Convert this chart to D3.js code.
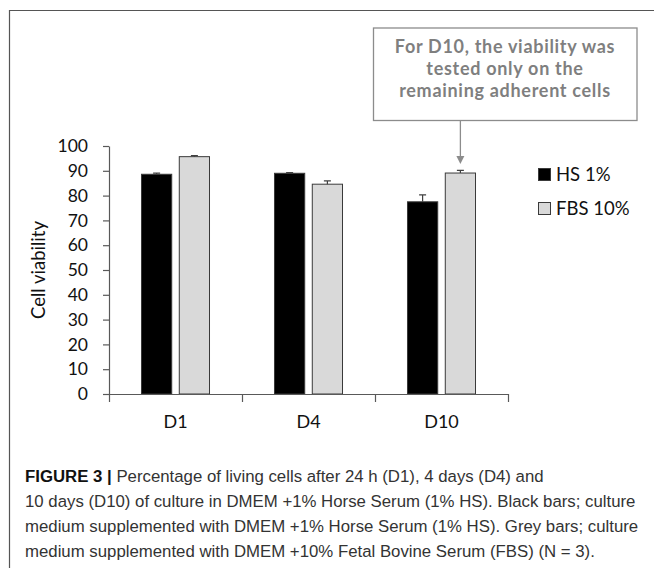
<!DOCTYPE html>
<html>
<head>
<meta charset="utf-8">
<script src="https://cdn.jsdelivr.net/npm/d3@7"></script>
<style>
  html, body { margin: 0; padding: 0; background: #fff; }
  svg { display: block; }
</style>
</head>
<body>
<svg id="chart" width="654" height="568"></svg>
<script>
const categories = ["D1", "D4", "D10"];
const seriesNames = ["HS 1%", "FBS 10%"];
const hsValues = [88.6, 89.0, 77.5];
const fbsValues = [95.7, 84.6, 89.1];
const hsErrors = [0.5, 0.3, 2.8];
const fbsErrors = [0.4, 1.3, 1.1];
const yTicks = [0, 10, 20, 30, 40, 50, 60, 70, 80, 90, 100];
const yTitle = "Cell viability";
const noteLines = ["For D10, the viability was", "tested only on the", "remaining adherent cells"];
const captionBold = "FIGURE 3 |";
const captionLines = [
  " Percentage of living cells after 24 h (D1), 4 days (D4) and",
  "10 days (D10) of culture in DMEM +1% Horse Serum (1% HS). Black bars; culture",
  "medium supplemented with DMEM +1% Horse Serum (1% HS). Grey bars; culture",
  "medium supplemented with DMEM +10% Fetal Bovine Serum (FBS) (N = 3)."
];

const seriesValues = [hsValues, fbsValues];
const seriesErrors = [hsErrors, fbsErrors];
const fills = ["#000000", "#d9d9d9"];
const font = "Lato, 'Open Sans', sans-serif";

const svg = d3.select("#chart");

// frame
svg.append("path")
  .attr("d", "M9.5,568 V10.5 H654")
  .attr("fill", "none").attr("stroke", "#555").attr("stroke-width", 1.2);

const y = d3.scaleLinear().domain([0, 100]).range([394, 146]);
const x0 = d3.scaleBand().domain(categories).range([109, 508]).paddingInner(0).paddingOuter(0);
const x1 = d3.scaleBand().domain(seriesNames).range([0, x0.bandwidth()]).paddingInner(0.2).paddingOuter(0.86);
const xEdge = d3.scaleLinear().domain([0, categories.length]).range([109, 508]);

// bars
const rows = categories.map((c, i) => ({ c, vals: seriesNames.map((s, j) => ({ s, j, v: seriesValues[j][i], e: seriesErrors[j][i] })) }));
const g = svg.append("g");
const groups = g.selectAll("g.grp").data(rows).join("g")
  .attr("transform", d => `translate(${x0(d.c)},0)`);

groups.selectAll("rect").data(d => d.vals).join("rect")
  .attr("x", d => x1(d.s))
  .attr("y", d => y(d.v))
  .attr("width", x1.bandwidth())
  .attr("height", d => y(0) - y(d.v))
  .attr("fill", d => fills[d.j])
  .attr("stroke", "#3a3a3a")
  .attr("stroke-width", 1);

// error bars (plus only)
groups.selectAll("path.err").data(d => d.vals).join("path")
  .attr("class", "err")
  .attr("d", d => {
    const cx = x1(d.s) + x1.bandwidth() / 2;
    return `M${cx},${y(d.v)} V${y(d.v + d.e)} M${cx - 3.5},${y(d.v + d.e)} H${cx + 3.5}`;
  })
  .attr("fill", "none").attr("stroke", "#404040").attr("stroke-width", 1.2);

// y axis
const yAxis = d3.axisLeft(y).tickValues(yTicks).tickSize(6).tickSizeOuter(0).tickPadding(15);
const ya = svg.append("g").attr("transform", "translate(109,0)").call(yAxis);
ya.select(".domain").attr("stroke", "#595959").attr("stroke-width", 1.2);
ya.selectAll(".tick line").attr("stroke", "#595959").attr("stroke-width", 1.2);
ya.selectAll(".tick text").attr("font-family", font).attr("font-size", 17.5).attr("fill", "#111");

// x axis: boundary ticks
const xa = svg.append("g").attr("transform", "translate(0,394)")
  .call(d3.axisBottom(xEdge).tickValues(d3.range(categories.length + 1)).tickFormat("").tickSize(8).tickSizeOuter(0));
xa.select(".domain").attr("stroke", "#595959").attr("stroke-width", 1.2);
xa.selectAll(".tick line").attr("stroke", "#595959").attr("stroke-width", 1.2);

// x labels
const xl = svg.append("g").attr("transform", "translate(0,394)")
  .call(d3.axisBottom(x0).tickSize(0).tickPadding(21));
xl.select(".domain").remove();
xl.selectAll(".tick text").attr("font-family", font).attr("font-size", 18).attr("fill", "#111");

// y title
svg.append("text")
  .attr("transform", "translate(45,270) rotate(-90)")
  .attr("text-anchor", "middle")
  .attr("font-family", font).attr("font-size", 18.5).attr("fill", "#111")
  .text(yTitle);

// legend
const leg = svg.append("g");
seriesNames.forEach((s, j) => {
  const ly = 168 + j * 34;
  leg.append("rect").attr("x", 538.5).attr("y", ly + 0.5).attr("width", 12).attr("height", 12)
    .attr("fill", fills[j]).attr("stroke", "#3a3a3a").attr("stroke-width", 1);
  leg.append("text").attr("x", 556).attr("y", ly + 12.5)
    .attr("font-family", font).attr("font-size", 18.5).attr("fill", "#111").text(s);
});

// annotation box
svg.append("rect").attr("x", 373.5).attr("y", 28).attr("width", 263.5).attr("height", 92.5)
  .attr("fill", "#fff").attr("stroke", "#8c8c8c").attr("stroke-width", 1.3);
noteLines.forEach((t, i) => {
  svg.append("text").attr("x", 505).attr("y", 52.5 + i * 22)
    .attr("text-anchor", "middle")
    .attr("font-family", font).attr("font-weight", "bold").attr("font-size", 18)
    .attr("letter-spacing", 0.7)
    .attr("fill", "#7f7f7f").text(t);
});
// arrow to D10 FBS bar
const arrowX = x0("D10") + x1("FBS 10%") + x1.bandwidth() / 2;
svg.append("path").attr("d", `M${arrowX},120.5 V157`).attr("stroke", "#8c8c8c").attr("stroke-width", 1.3);
svg.append("path").attr("d", `M${arrowX - 4},156 L${arrowX + 4},156 L${arrowX},164 Z`).attr("fill", "#8c8c8c");

// caption
const capFont = "'Liberation Sans Narrow', 'Arial Narrow', sans-serif";
captionLines.forEach((t, i) => {
  const tx = svg.append("text").attr("x", 25).attr("y", 482 + i * 25)
    .attr("font-family", capFont).attr("font-size", 16.8).attr("fill", "#333");
  if (i === 0) {
    tx.append("tspan").attr("font-weight", "bold").attr("fill", "#111").text(captionBold);
  }
  tx.append("tspan").text(t);
});
</script>
</body>
</html>
